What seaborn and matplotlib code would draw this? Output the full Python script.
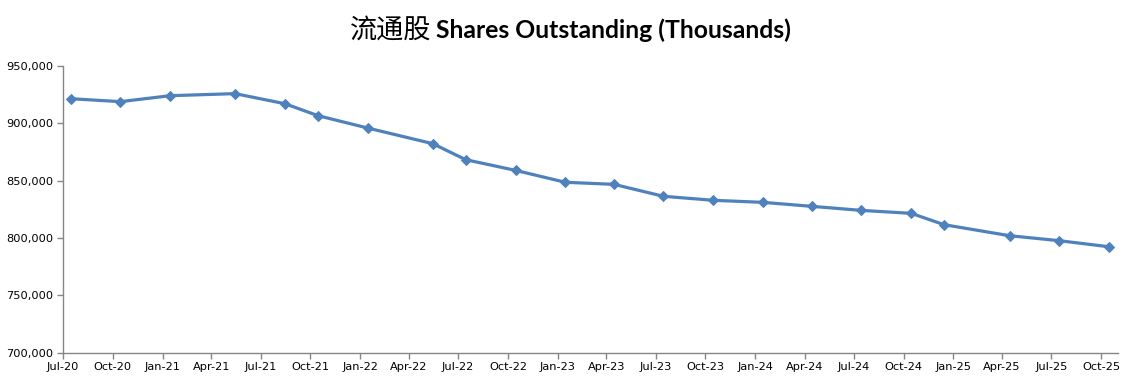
import matplotlib
matplotlib.use("Agg")
import matplotlib.pyplot as plt
import matplotlib.dates as mdates
from matplotlib.ticker import FuncFormatter
import seaborn as sns
import pandas as pd

# ---- data ----
dates = ["2020-07-15", "2020-10-15", "2021-01-15", "2021-05-15", "2021-08-15",
         "2021-10-15", "2022-01-15", "2022-05-15", "2022-07-15", "2022-10-15",
         "2023-01-15", "2023-04-15", "2023-07-15", "2023-10-15", "2024-01-15",
         "2024-04-15", "2024-07-15", "2024-10-15", "2024-12-15", "2025-04-15",
         "2025-07-15", "2025-10-15"]
shares = [921500, 918900, 924100, 925900, 917100,
          906700, 895900, 882300, 868300, 859000,
          848600, 846800, 836400, 832900, 831100,
          827600, 824100, 821500, 811600, 802000,
          797700, 792400]
title_cn = "流通股"
title_en = "Shares Outstanding (Thousands)"

df = pd.DataFrame({"date": pd.to_datetime(dates), "shares": shares})

sns.set_theme(style="white")
plt.rcParams["font.family"] = ["DejaVu Sans", "Noto Sans CJK SC"]

fig = plt.figure(figsize=(11.43, 3.83), dpi=100)
ax = fig.add_axes([0.0551, 0.0791, 0.9230, 0.7486])

sns.lineplot(data=df, x="date", y="shares", ax=ax, color="#4F81BD",
             linewidth=2.3, marker="D", markersize=5.2,
             markeredgecolor="#4F81BD", markerfacecolor="#4F81BD")

ax.set_xlim(pd.Timestamp("2020-07-01"), pd.Timestamp("2025-11-01"))
ax.set_ylim(700000, 950000)
ax.set_yticks([700000, 750000, 800000, 850000, 900000, 950000])
ax.yaxis.set_major_formatter(FuncFormatter(lambda v, p: f"{int(v):,}"))
ax.xaxis.set_major_locator(mdates.MonthLocator(bymonth=[1, 4, 7, 10]))
ax.xaxis.set_major_formatter(mdates.DateFormatter("%b-%y"))

ax.set_xlabel("")
ax.set_ylabel("")
for s in ["top", "right"]:
    ax.spines[s].set_visible(False)
for s in ["left", "bottom"]:
    ax.spines[s].set_color("#868686")
    ax.spines[s].set_linewidth(1.0)
ax.tick_params(axis="both", which="major", direction="out", length=4,
               width=1.0, color="#868686", labelsize=8.2, labelcolor="#000000",
               pad=3, bottom=True, left=True)
ax.grid(False)

fig.text(0.3770, 0.922, title_cn, ha="right", va="center", fontsize=19.5,
         family=["Noto Sans CJK SC", "DejaVu Sans"], color="#000000")
fig.text(0.3815, 0.922, title_en, ha="left", va="center", fontsize=17.8,
         fontweight="bold", family=["Lato", "DejaVu Sans"], color="#000000")

fig.savefig("out.png", dpi=100)
